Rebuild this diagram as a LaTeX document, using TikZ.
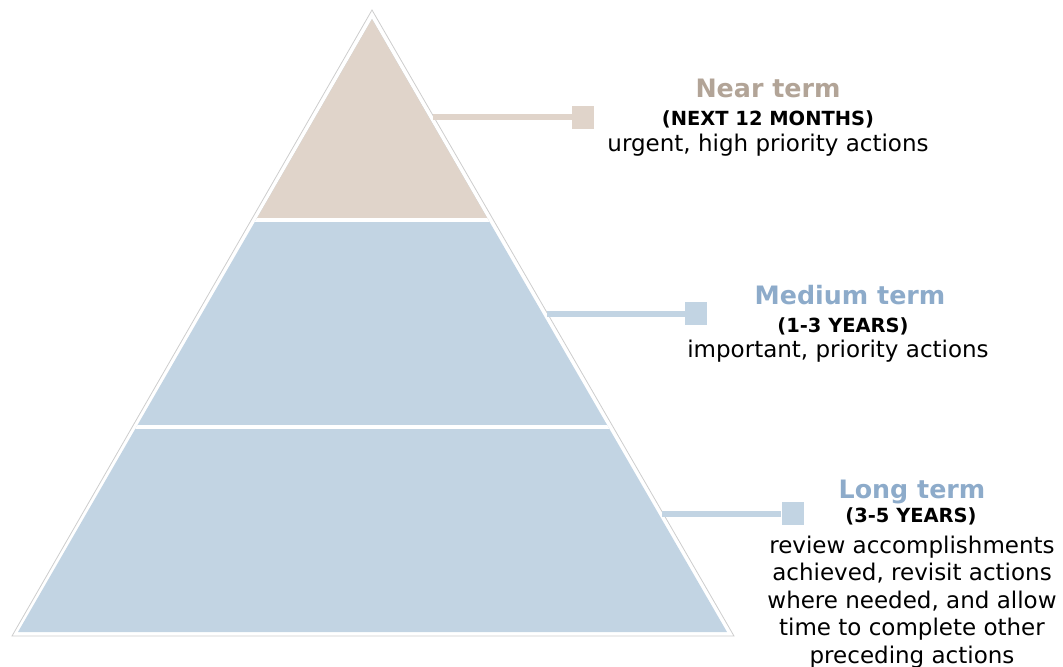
\documentclass[tikz,border=0pt]{standalone}
\usepackage{fontspec}
\setmainfont{DejaVu Sans}
\usepackage{xcolor}
\usepackage{tikz}

\definecolor{sand}{HTML}{E0D4CA}
\definecolor{sandtext}{HTML}{B2A497}
\definecolor{sky}{HTML}{C2D4E3}
\definecolor{skytext}{HTML}{8DABCA}
\definecolor{rim}{HTML}{CDCDCD}

\tikzset{
  title/.style={font=\fontsize{19}{23}\selectfont\bfseries, anchor=base, inner sep=0pt},
  span/.style={font=\fontsize{14.6}{18}\selectfont\bfseries, anchor=base, inner sep=0pt},
  body/.style={font=\fontsize{17.25}{20.6}\selectfont, align=center, anchor=base, inner sep=0pt},
  tab/.style={minimum width=16.5pt, minimum height=17.25pt, inner sep=0pt},
  leader/.style={line width=4.5pt},
}

\begin{document}
\begin{tikzpicture}[x=0.75pt,y=-0.75pt]
\useasboundingbox (0,0) rectangle (1063,667);

% outline of the pyramid
\coordinate (apex) at (372,10);
\coordinate (bl) at (12,636);
\coordinate (br) at (734,636);
\draw [rim, line width=0.6pt] (apex) -- (bl) -- (br) -- cycle;

% the three bands, set in from the outline
\begin{scope}
\clip (372,19) -- (18,632) -- (727,632) -- cycle;
\fill [sky] (0,0) rectangle (1063,667);
\fill [sand] (0,0) rectangle (1063,219.5);
\draw [white, line width=3pt] (0,219.5) -- (1063,219.5);
\draw [white, line width=3pt] (0,427) -- (1063,427);
\end{scope}

% leaders
\coordinate (p1) at (433,117);
\coordinate (p2) at (547,313.5);
\coordinate (p3) at (662,513.5);
\node [tab, fill=sand] (b1) at (583,117) {};
\node [tab, fill=sky] (b2) at (696,313.5) {};
\node [tab, fill=sky] (b3) at (792.5,513.5) {};
\draw [leader, sand] (p1) -- (b1);
\draw [leader, sky] (p2) -- (b2);
\draw [leader, sky] (p3) -- (b3);

% labels (body base sits on its last line)
\node [title, text=sandtext] (t1) at (768,98) {Near term};
\node [span] (s1) at (768,125) {(NEXT 12 MONTHS)};
\node [body] (d1) at (768,151) {urgent, high priority actions};

\node [title, text=skytext] (t2) at (850,304) {Medium term};
\node [span] (s2) at (843,332) {(1-3 YEARS)};
\node [body] (d2) at (838,357) {important, priority actions};

\node [title, text=skytext] (t3) at (912,498) {Long term};
\node [span] (s3) at (911,522) {(3-5 YEARS)};
\node [body] (d3) at (912,663) {review accomplishments\\achieved, revisit actions\\where needed, and allow\\time to complete other\\preceding actions};
\end{tikzpicture}
\end{document}
